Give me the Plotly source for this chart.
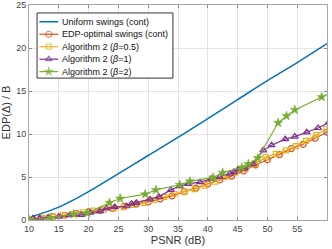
import plotly.graph_objects as go

# Uniform swings (cont)
uni_x = [10, 15, 20, 25, 30, 35, 40, 45, 50, 55, 60]
uni_y = [0.3, 1.5, 3.3, 5.4, 7.5, 9.6, 11.8, 14.0, 16.2, 18.3, 20.5]

# EDP-optimal swings (cont)
opt_x = [10, 12, 14, 16, 18, 20, 22, 24, 26, 28, 30, 32, 34, 36, 38, 40, 42, 44, 46, 48, 50, 52, 54, 56, 58, 60]
opt_y = [0.05, 0.2, 0.4, 0.55, 0.75, 0.95, 1.15, 1.35, 1.6, 1.85, 2.1, 2.45, 2.8, 3.3, 3.7, 4.2, 4.65, 5.1,
         5.7, 6.4, 7.0, 7.6, 8.3, 8.8, 9.5, 10.2]

# Algorithm 2 (beta=0.5)
b05_x = [10.6, 12.3, 14.0, 15.7, 17.4, 19.1, 20.8, 22.5, 24.2, 25.9, 27.6, 29.3, 31.0, 32.7, 34.4, 36.1, 37.8,
         39.5, 41.2, 42.9, 44.6, 46.3, 48.0, 49.7, 51.4, 53.1, 54.8, 56.5, 58.2, 59.9]
b05_y = [0.1, 0.25, 0.4, 0.55, 0.7, 0.9, 1.1, 1.2, 1.35, 1.5, 1.75, 2.0, 2.35, 2.7, 3.05, 3.3, 3.6,
         4.0, 4.45, 5.0, 5.5, 5.9, 6.5, 7.3, 7.7, 8.1, 8.6, 9.2, 9.9, 10.6]

# Algorithm 2 (beta=1)
b1_x = [10.7, 11.8, 13.2, 15.0, 16.8, 18.8, 20.3, 21.9, 23.0, 24.4, 26.4, 27.2, 28.0, 30.3, 31.8, 33.8, 35.3,
        36.7, 38.7, 40.6, 42.0, 43.7, 44.4, 45.1, 46.2, 47.6, 49.3, 50.7, 53.0, 54.6, 56.6, 58.5, 60.3]
b1_y = [0.2, 0.2, 0.3, 0.4, 0.55, 0.6, 0.85, 1.0, 1.35, 1.5, 1.6, 1.9, 2.0, 2.4, 2.7, 3.5, 3.95,
        4.2, 4.4, 4.8, 5.0, 5.4, 5.6, 5.9, 6.0, 6.5, 8.1, 8.7, 9.4, 9.7, 10.2, 10.7, 11.35]

# Algorithm 2 (beta=2)
b2_x = [10.0, 13.6, 17.5, 19.8, 23.5, 25.3, 29.5, 31.3, 35.3, 37.0, 40.9, 42.5, 45.7, 46.8, 48.4, 51.8,
        53.2, 54.6, 59.1, 61.0]
b2_y = [0.05, 0.25, 0.7, 0.8, 2.0, 2.5, 3.0, 3.5, 4.1, 4.5, 4.95, 5.5, 6.1, 6.5, 7.2, 11.3,
        12.1, 12.8, 14.3, 14.95]

x_ticks = [10, 15, 20, 25, 30, 35, 40, 45, 50, 55, 60]
y_ticks = [0, 5, 10, 15, 20, 25]

series_names = ["Uniform swings (cont)", "EDP-optimal swings (cont)", "Algorithm 2 (<i>β</i>=0.5)",
                "Algorithm 2 (<i>β</i>=1)", "Algorithm 2 (<i>β</i>=2)"]
colors = ["#0072BD", "#D95319", "#EDB120", "#7E2F8E", "#77AC30"]
symbols = [None, "circle-open", "square-open", "triangle-up-open", "star"]
msizes = [0, 6, 5, 6, 7]

FONT = "Liberation Sans, Arial, sans-serif"

fig = go.Figure()
fig.add_trace(go.Scatter(x=uni_x, y=uni_y, mode="lines", line=dict(color=colors[0], width=1.5, shape="spline"),
                         name=series_names[0]))
data = [(opt_x, opt_y), (b05_x, b05_y), (b1_x, b1_y), (b2_x, b2_y)]
for i, (xs, ys) in enumerate(data, start=1):
    mline = dict(width=1.2) if symbols[i] != "star" else dict(width=0.5, color=colors[i])
    fig.add_trace(go.Scatter(x=xs, y=ys, mode="lines+markers", line=dict(color=colors[i], width=1.2),
                             marker=dict(symbol=symbols[i], size=msizes[i], color=colors[i], line=mline),
                             name=series_names[i]))

# Custom compact legend (drawn on an overlay axis with a 0..1 range)
lx0, lx1, ly0, ly1 = 0.027, 0.483, 0.660, 0.963
fig.add_trace(go.Scatter(x=[lx0, lx1, lx1, lx0, lx0], y=[ly0, ly0, ly1, ly1, ly0], mode="lines",
                         fill="toself", fillcolor="white", line=dict(color="#333333", width=1),
                         xaxis="x2", yaxis="y2", hoverinfo="skip", showlegend=False))
row_y = [0.922, 0.864, 0.806, 0.748, 0.690]
sx0, sx1 = 0.035, 0.098
for i in range(5):
    if symbols[i] is None:
        fig.add_trace(go.Scatter(x=[sx0, sx1], y=[row_y[i], row_y[i]], mode="lines",
                                 line=dict(color=colors[i], width=1.5), xaxis="x2", yaxis="y2",
                                 hoverinfo="skip", showlegend=False))
    else:
        mline = dict(width=1.2) if symbols[i] != "star" else dict(width=0.5, color=colors[i])
        fig.add_trace(go.Scatter(x=[sx0, (sx0 + sx1) / 2, sx1], y=[row_y[i]] * 3, mode="lines+markers",
                                 line=dict(color=colors[i], width=1.2),
                                 marker=dict(symbol=symbols[i], size=[0, msizes[i], 0], color=colors[i], line=mline),
                                 xaxis="x2", yaxis="y2", hoverinfo="skip", showlegend=False))
    fig.add_annotation(x=0.104, y=row_y[i], xref="x2", yref="y2", text=series_names[i], showarrow=False,
                       xanchor="left", yanchor="middle", font=dict(family=FONT, size=9, color="#111111"))

axis_common = dict(showgrid=True, gridcolor="#e3e3e3", gridwidth=1, showline=True, linecolor="#a6a6a6",
                   linewidth=1, mirror="ticks", ticks="inside", ticklen=3, tickcolor="#8a8a8a",
                   tickfont=dict(family=FONT, size=9, color="#444444"), zeroline=False, automargin=False)

fig.update_layout(
    width=332, height=249,
    margin=dict(l=29, r=5, t=5, b=29),
    paper_bgcolor="white", plot_bgcolor="white",
    showlegend=False,
    xaxis=dict(range=[10, 60], tickvals=x_ticks, title=dict(text="PSNR (dB)", standoff=2,
               font=dict(family=FONT, size=11, color="#333333")), **axis_common),
    yaxis=dict(range=[0, 25], tickvals=y_ticks, title=dict(text="EDP(Δ) / B", standoff=4,
               font=dict(family=FONT, size=11, color="#333333")), **axis_common),
    xaxis2=dict(range=[0, 1], overlaying="x", visible=False, fixedrange=True),
    yaxis2=dict(range=[0, 1], overlaying="y", visible=False, fixedrange=True),
)

fig.write_html("out.html", config={"displayModeBar": False},
               post_script="document.body.style.margin='0';document.body.style.overflow='hidden';")
